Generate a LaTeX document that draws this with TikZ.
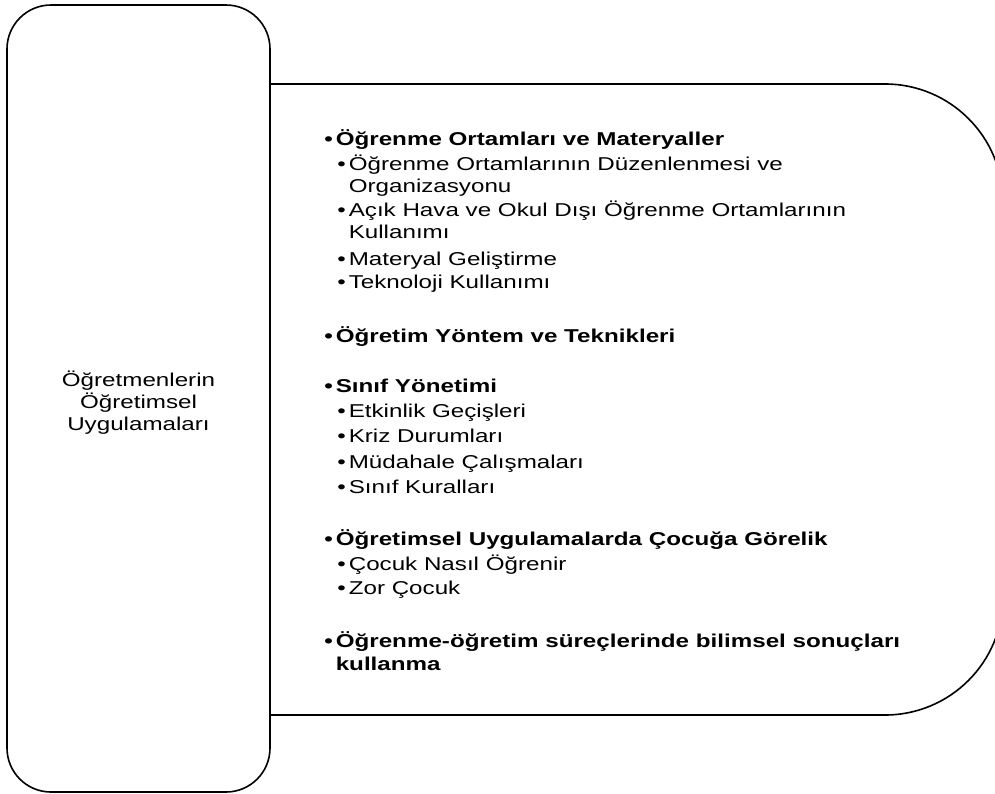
\documentclass[tikz,border=0pt]{standalone}
\usepackage{fontspec}
\setmainfont[FakeStretch=1.3]{Liberation Sans}
\newcommand{\bul}{\llap{\textbullet\hspace{3pt}}}

\begin{document}
\begin{tikzpicture}[x = 1pt, y = -1pt, line width = 1.6pt,
	every node/.style = {inner sep = 0pt, anchor = base west, align = left, font = \fontsize{18.6}{22}\selectfont},
	head/.style = {font = \fontsize{18.6}{23}\selectfont\bfseries}]

	\useasboundingbox (0, 0) rectangle (995, 793);
	\clip (0, 0) rectangle (995, 793);

	% right panel, its left end hidden behind the box
	\draw [rounded corners = 118pt] (200, 84) -- (1003, 84) -- (1003, 715) -- (200, 715);

	\node (mainbox) at (138.5, 398.5) [draw, fill = white, rounded corners = 44pt, minimum width = 263pt, minimum height = 787pt, anchor = center] {};
	\node (maintitle) at (138.5, 402.5) [anchor = center, align = center] {Öğretmenlerin\\Öğretimsel\\Uygulamaları};

	% y is the baseline of the last line of each item
	\node (ortam)  at (335, 145) [head] {\bul Öğrenme Ortamları ve Materyaller};
	\node (yontem) at (335, 342) [head] {\bul Öğretim Yöntem ve Teknikleri};
	\node (sinif)  at (335, 392) [head] {\bul Sınıf Yönetimi};
	\node (cocuk)  at (335, 545) [head] {\bul Öğretimsel Uygulamalarda Çocuğa Görelik};
	\node (bilim)  at (335, 670) [head] {\bul Öğrenme-öğretim süreçlerinde bilimsel sonuçları\\kullanma};

	\foreach \name/\y/\txt in {duzen/192/{Öğrenme Ortamlarının Düzenlenmesi ve\\Organizasyonu},
		acik/238/{Açık Hava ve Okul Dışı Öğrenme Ortamlarının\\Kullanımı},
		materyal/265/Materyal Geliştirme, tekno/288/Teknoloji Kullanımı,
		gecis/417/Etkinlik Geçişleri, kriz/442/Kriz Durumları,
		mudahale/468/Müdahale Çalışmaları, kural/493/Sınıf Kuralları,
		nasil/570/Çocuk Nasıl Öğrenir, zor/594/Zor Çocuk}
		\node (\name) at (348, \y) {\bul \txt};

\end{tikzpicture}
\end{document}
